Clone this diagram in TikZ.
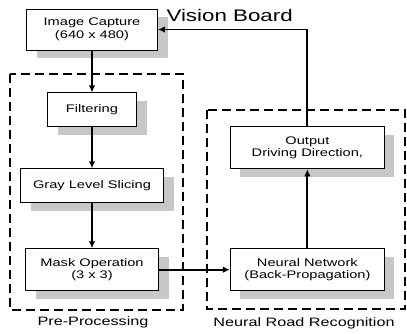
\documentclass[tikz,border=0pt]{standalone}
\usepackage{fontspec}
\setmainfont{Liberation Sans}[FakeStretch=1.33]
\usepackage{tikz}
\usetikzlibrary{positioning}
\usetikzlibrary{arrows.meta}
\usetikzlibrary{shadows}

\begin{document}
\begin{tikzpicture}[x=1pt, y=-1pt,
                          >={Latex[length=7pt,width=6.5pt]},
                          stagebox/.style={rectangle, draw, fill=white, line width=0.9pt, align=center, inner sep=2pt,
                                           font=\fontsize{11}{12.5}\selectfont,
                                           drop shadow={shadow xshift=10pt, shadow yshift=-8pt, fill=black!22, opacity=1}},
                          flow/.style={->, line width=1.9pt},
                          groupbox/.style={draw, line width=1.9pt, dash pattern=on 9pt off 5pt},
                          grouplabel/.style={font=\fontsize{12.2}{14}\selectfont},
                      ]
                      \useasboundingbox (0,0) rectangle (407,334);

                      %Nodes
                      \node[stagebox, minimum width=131pt, minimum height=41pt] (capture) at (92,29.5) {Image Capture\\(640 x 480)};
                      \node[stagebox, minimum width=89pt, minimum height=34pt]  (filter)  [below=42pt of capture] {Filtering};
                      \node[stagebox, minimum width=143pt, minimum height=34pt] (slicing) [below=41pt of filter]  {Gray Level Slicing};
                      \node[stagebox, minimum width=133pt, minimum height=42pt] (mask)    [below=45pt of slicing] {Mask Operation\\(3 x 3)};
                      \node[stagebox, minimum width=154pt, minimum height=42pt] (network) [right=71pt of mask]    {Neural Network\\(Back-Propagation)};
                      \node[stagebox, minimum width=154pt, minimum height=42pt] (output)  [above=79pt of network] {Output\\Driving Direction,};

                      %Groups
                      \draw[groupbox] (10,74) rectangle (183,310);
                      \draw[groupbox] (207,110) rectangle (405,309);
                      \node[grouplabel] (prelabel) at (93,322) {Pre-Processing};
                      \node[grouplabel] (nnlabel)  at (304,323) {Neural Road Recognition};
                      \node[anchor=west, font=\fontsize{16.8}{18}\selectfont] (board) at (163,15) {Vision Board};

                      %Lines
                      \draw[flow] (capture.south) -- (filter.north);
                      \draw[flow] (filter.south) -- (slicing.north);
                      \draw[flow] (slicing.south) -- (mask.north);
                      \draw[flow] (mask.east) -- (network.west);
                      \draw[flow] (network.north) -- (output.south);
                      \draw[flow] (output.north) |- (capture.east);
\end{tikzpicture}
\end{document}
